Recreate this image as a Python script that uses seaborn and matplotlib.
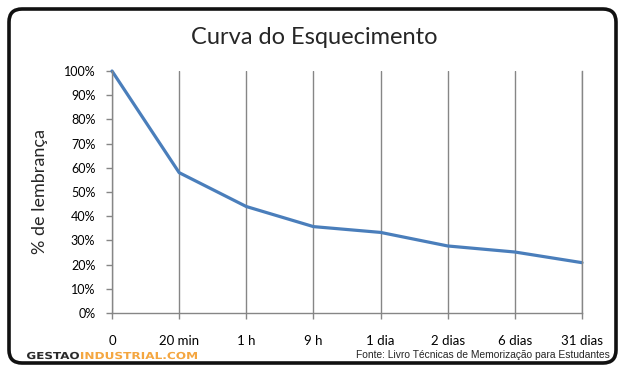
import matplotlib
matplotlib.use('Agg')
import matplotlib.pyplot as plt
import seaborn as sns
import pandas as pd
from matplotlib.patches import FancyBboxPatch, PathPatch
from matplotlib.textpath import TextPath
from matplotlib.font_manager import FontProperties
from matplotlib.transforms import Affine2D
from matplotlib.ticker import PercentFormatter

# dados
intervalos = ['0', '20 min', '1 h', '9 h', '1 dia', '2 dias', '6 dias', '31 dias']
lembranca = [100, 58, 44, 35.7, 33.3, 27.7, 25.2, 20.8]

df = pd.DataFrame({'intervalo': intervalos, 'lembranca': lembranca})

sns.set_theme(style='white')
plt.rcParams['font.family'] = ['Lato', 'DejaVu Sans']

W, H = 629, 373
fig = plt.figure(figsize=(W / 100, H / 100), dpi=100)
ax = fig.add_axes([112 / W, 1 - 313 / H, 470 / W, 242 / H])

sns.lineplot(data=df, x='intervalo', y='lembranca', ax=ax, color='#4A7EBB',
             linewidth=2.3, sort=False, clip_on=False)

ax.set_xlim(0, 7)
ax.set_ylim(0, 100)
ax.set_yticks(range(0, 101, 10))
ax.yaxis.set_major_formatter(PercentFormatter(decimals=0))
ax.set_xticks(range(len(intervalos)))
ax.set_xticklabels(intervalos)

ax.spines['top'].set_visible(False)
for s in ['left', 'bottom', 'right']:
    ax.spines[s].set_color('#868686')
    ax.spines[s].set_linewidth(1)
ax.grid(axis='x', color='#868686', linewidth=1)
ax.grid(axis='y', visible=False)
ax.tick_params(axis='both', colors='#868686', length=4, width=1,
               labelcolor='black', labelsize=9)
ax.tick_params(axis='x', pad=12, labelsize=9.5, bottom=True)
ax.tick_params(axis='y', pad=8, left=True)
ax.set_xlabel('')
ax.set_ylabel('')

fig.text(40 / W, 1 - 191 / H, '% de lembrança', rotation=90,
         ha='center', va='center', fontsize=13)
fig.text(314 / W, 1 - 38 / H, 'Curva do Esquecimento',
         ha='center', va='center', fontsize=17)

# moldura arredondada
borda = FancyBboxPatch((0.09, 0.10), 6.07, 3.54,
                       boxstyle='round,pad=0,rounding_size=0.13',
                       transform=fig.dpi_scale_trans, facecolor='none',
                       edgecolor='#111111', linewidth=2.6)
fig.add_artist(borda)


# logo com letras largas (esticadas na horizontal)
def logo(texto, x0, x1, cor):
    fp = FontProperties(family='DejaVu Sans', weight='bold')
    p = TextPath((0, 0), texto, size=10, prop=fp)
    ext = p.get_extents()
    cap = TextPath((0, 0), 'E', size=10, prop=fp).get_extents().height
    sx = (x1 - x0) / ext.width
    sy = 7 / cap
    tr = Affine2D().translate(-ext.x0, 0).scale(sx, sy).translate(x0, H - 359)
    fig.add_artist(PathPatch(p, transform=tr, facecolor=cor, edgecolor='none'))


logo('GESTAO', 27, 79, '#2B2B2B')
logo('INDUSTRIAL.COM', 81, 197, '#F4A640')

fig.text(610 / W, 1 - 355 / H,
         'Fonte: Livro Técnicas de Memorização para Estudantes',
         fontsize=7.4, family='Liberation Sans', ha='right', va='center')

fig.savefig('out.png', dpi=100)
